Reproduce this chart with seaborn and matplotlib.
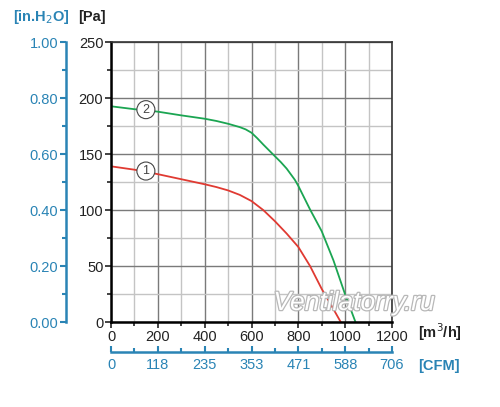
import numpy as np
import pandas as pd
import seaborn as sns
import matplotlib.pyplot as plt
import matplotlib.patheffects as pe
from matplotlib.ticker import MultipleLocator, FixedLocator

# curve 1 (red) and curve 2 (green): airflow m3/h vs pressure Pa
q1 = [0, 100, 200, 300, 400, 450, 500, 550, 600, 650, 700, 750, 800, 850, 900, 950, 981]
p1 = [139, 136, 132, 127.5, 123, 120.5, 117.5, 113.5, 108, 100, 90, 79, 67, 50, 29.5, 11.5, 0]
q2 = [0, 100, 200, 300, 400, 450, 500, 550, 575, 600, 625, 650, 700, 725, 750, 785, 800,
      850, 900, 950, 1000, 1044]
p2 = [192.6, 190, 187.8, 184.5, 181.5, 179.5, 177, 174, 172, 169, 164, 158.5, 148, 142.8, 137,
      127, 121.5, 100.5, 81, 55, 24.5, 0]

cfm_labels = ['0', '118', '235', '353', '471', '588', '706']
m3h_ticks = [0, 200, 400, 600, 800, 1000, 1200]
inh2o_ticks = [0.0, 0.2, 0.4, 0.6, 0.8, 1.0]

df = pd.concat([
    pd.DataFrame({'q': q1, 'p': p1, 'curve': '1'}),
    pd.DataFrame({'q': q2, 'p': p2, 'curve': '2'}),
])

sns.set_style('white')
plt.rcParams['font.family'] = ['Liberation Sans', 'DejaVu Sans']

blue = '#2a84b5'
dark = '#222222'

fig = plt.figure(figsize=(5, 4.07), dpi=100)
ax = fig.add_axes([0.222, 0.2088, 0.562, 0.688])

sns.lineplot(data=df, x='q', y='p', hue='curve', palette={'1': '#e03a32', '2': '#1ba552'},
             linewidth=1.3, legend=False, ax=ax, sort=False)

ax.set_xlim(0, 1200)
ax.set_ylim(0, 250)
ax.xaxis.set_major_locator(MultipleLocator(200))
ax.xaxis.set_minor_locator(MultipleLocator(100))
ax.yaxis.set_major_locator(MultipleLocator(50))
ax.yaxis.set_minor_locator(MultipleLocator(25))
ax.grid(which='major', color='#7a7a7a', lw=1.0)
ax.grid(which='minor', color='#c4c4c4', lw=1.0)
ax.set_axisbelow(True)
ax.set_xlabel('')
ax.set_ylabel('')

for s in ['left', 'bottom']:
    ax.spines[s].set_color('black')
    ax.spines[s].set_linewidth(1.8)
for s in ['top', 'right']:
    ax.spines[s].set_color('#333333')
    ax.spines[s].set_linewidth(1.2)

ax.tick_params(which='major', direction='out', length=4, width=1.2, color=dark,
               labelsize=10.5, labelcolor=dark, pad=1.5, left=True, bottom=True)
ax.tick_params(which='minor', direction='out', length=3, width=1.2, color=dark,
               left=True, bottom=True)

# circled curve numbers
for num, qq, pp in [('1', 149, 134.8), ('2', 149, 189.6)]:
    ax.text(qq, pp, num, ha='center', va='center', fontsize=9, color='#444444',
            bbox=dict(boxstyle='circle,pad=0.24', fc='white', ec='#444444', lw=0.8))

# secondary scales
sy = ax.secondary_yaxis(-0.16, functions=(lambda p: p / 250, lambda v: v * 250))
sy.set_yticks(inh2o_ticks, [f'{v:.2f}' for v in inh2o_ticks])
sy.yaxis.set_minor_locator(MultipleLocator(0.1))
sy.spines['left'].set_color(blue)
sy.spines['left'].set_linewidth(1.8)
sy.tick_params(which='both', colors=blue, width=1.5, labelsize=10.5, pad=1.5)
sy.tick_params(which='major', length=4)
sy.tick_params(which='minor', length=3)

k = 706 / 1200
sx = ax.secondary_xaxis(-0.107, functions=(lambda q: q * k, lambda c: c / k))
sx.set_xticks([t * k for t in m3h_ticks], cfm_labels)
sx.xaxis.set_minor_locator(FixedLocator([t * k for t in range(100, 1200, 200)]))
sx.spines['bottom'].set_color(blue)
sx.spines['bottom'].set_linewidth(1.8)
sx.tick_params(which='both', colors=blue, width=1.5, labelsize=10.5, direction='in', pad=4)
sx.tick_params(which='major', length=4)
sx.tick_params(which='minor', length=3)

# axis unit labels
fig.text(13 / 500, 1 - 17 / 407, '[in.H$_2$O]', color=blue, fontsize=10.5,
         fontweight='bold', va='center', ha='left')
fig.text(78 / 500, 1 - 17 / 407, '[Pa]', color=dark, fontsize=10.5,
         fontweight='bold', va='center', ha='left')
fig.text(418 / 500, 1 - 332 / 407, '[m$^3$/h]', color=dark, fontsize=10.5,
         fontweight='bold', va='center', ha='left')
fig.text(418 / 500, 1 - 366 / 407, '[CFM]', color=blue, fontsize=10.5,
         fontweight='bold', va='center', ha='left')

# watermark
fig.text(354 / 500, 1 - 303 / 407, 'Ventilatorry.ru', fontsize=19, style='italic',
         color='white', ha='center', va='center',
         path_effects=[pe.withStroke(linewidth=1.8, foreground='#b8b8b8')])

fig.savefig('out.png', dpi=100)
